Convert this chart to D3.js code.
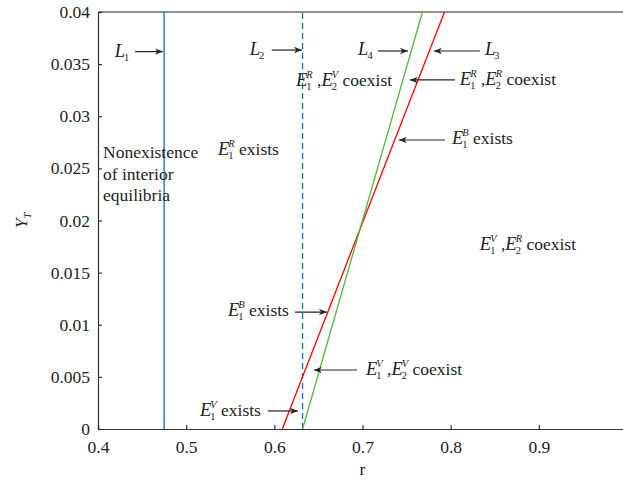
<!DOCTYPE html>
<html>
<head>
<meta charset="utf-8">
<script src="https://cdn.jsdelivr.net/npm/d3@7"></script>
<style>
  body { margin: 0; background: #fff; }
  svg { display: block; }
  text { font-family: "Liberation Serif", "DejaVu Serif", serif; fill: #222; white-space: pre; }
</style>
</head>
<body>
<svg id="chart" width="623" height="479"></svg>
<script>
// ---- data ----
var xTicks = [0.4, 0.5, 0.6, 0.7, 0.8, 0.9]
var yTicks = [0, 0.005, 0.01, 0.015, 0.02, 0.025, 0.03, 0.035, 0.04]
var yTickLabels = ["0", "0.005", "0.01", "0.015", "0.02", "0.025", "0.03", "0.035", "0.04"]

var rL1 = 0.475            // blue solid vertical
var rL2 = 0.632            // blue dashed vertical
var lineL3 = [[0.609, 0], [0.793, 0.04]]   // red
var lineL4 = [[0.632, 0], [0.768, 0.04]]   // green

// text labels: [r, Y, parts]   parts: plain strings or {b, sup, sub}
var labels = [
  [0.419, 0.0357, [{b: "L", sub: "1"}]],
  [0.572, 0.0359, [{b: "L", sub: "2"}]],
  [0.695, 0.0359, [{b: "L", sub: "4"}]],
  [0.839, 0.0359, [{b: "L", sub: "3"}]],
  [0.6245, 0.0329, [{b: "E", sup: "R", sub: "1"}, " ,", {b: "E", sup: "V", sub: "2"}, " coexist"]],
  [0.8104, 0.0330, [{b: "E", sup: "R", sub: "1"}, " ,", {b: "E", sup: "R", sub: "2"}, " coexist"]],
  [0.8014, 0.0273, [{b: "E", sup: "B", sub: "1"}, " exists"]],
  [0.536, 0.0263, [{b: "E", sup: "R", sub: "1"}, " exists"]],
  [0.8331, 0.0172, [{b: "E", sup: "V", sub: "1"}, " ,", {b: "E", sup: "R", sub: "2"}, " coexist"]],
  [0.5474, 0.0108, [{b: "E", sup: "B", sub: "1"}, " exists"]],
  [0.7039, 0.0052, [{b: "E", sup: "V", sub: "1"}, " ,", {b: "E", sup: "V", sub: "2"}, " coexist"]],
  [0.5156, 0.00125, [{b: "E", sup: "V", sub: "1"}, " exists"]]
]
var plainLines = [
  [0.4057, 0.0260, "Nonexistence"],
  [0.4057, 0.0239, "of interior"],
  [0.4057, 0.0219, "equilibria"]
]

// arrows: [r from, r to, Y]
var arrows = [
  [0.442, 0.4737, 0.0362],
  [0.597, 0.6313, 0.03635],
  [0.7175, 0.7515, 0.03626],
  [0.8331, 0.781, 0.03626],
  [0.8048, 0.7537, 0.03348],
  [0.7934, 0.7413, 0.02772],
  [0.6234, 0.6596, 0.01122],
  [0.6937, 0.6449, 0.00566],
  [0.5927, 0.6267, 0.00173]
]

// ---- drawing ----
var svg = d3.select("#chart")
var axisColor = "#333"
var fs = 17.5

var x = d3.scaleLinear().domain([0.4, 1.0]).range([98, 627])
var y = d3.scaleLinear().domain([0, 0.04]).range([429, 12])

var defs = svg.append("defs")
defs.append("marker")
  .attr("id", "head")
  .attr("viewBox", "0 -5 10 10")
  .attr("refX", 10).attr("refY", 0)
  .attr("markerWidth", 10).attr("markerHeight", 8)
  .attr("markerUnits", "userSpaceOnUse")
  .attr("orient", "auto")
  .append("path")
  .attr("d", "M0,-4 L10,0 L0,4 L3,0 Z")
  .attr("fill", "#222")

// axes (ticks inward)
var xAxis = d3.axisBottom(x).tickValues(xTicks).tickSize(-4).tickPadding(12).tickFormat(d3.format(".1f"))
var yAxis = d3.axisLeft(y).tickValues(yTicks).tickSize(-4).tickPadding(8).tickFormat((d, i) => yTickLabels[i])

var gx = svg.append("g").attr("transform", "translate(0," + y(0) + ")").call(xAxis)
var gy = svg.append("g").attr("transform", "translate(" + x(0.4) + ",0)").call(yAxis)
;[gx, gy].forEach(function(g) {
  g.select(".domain").attr("stroke", axisColor).attr("stroke-width", 1.2)
  g.selectAll(".tick line").attr("stroke", axisColor).attr("stroke-width", 1.2)
  g.selectAll(".tick text").attr("font-size", fs).attr("font-family", "Liberation Serif").attr("fill", "#222")
})

// top frame line
svg.append("line")
  .attr("x1", x(0.4)).attr("x2", x(1.0))
  .attr("y1", y(0.04)).attr("y2", y(0.04))
  .attr("stroke", "#222").attr("stroke-width", 1.2)

// curves
svg.append("line")
  .attr("x1", x(rL1)).attr("x2", x(rL1)).attr("y1", y(0)).attr("y2", y(0.04))
  .attr("stroke", "#0072BD").attr("stroke-width", 1.3)
svg.append("line")
  .attr("x1", x(rL2)).attr("x2", x(rL2)).attr("y1", y(0)).attr("y2", y(0.04))
  .attr("stroke", "#0072BD").attr("stroke-width", 1.3).attr("stroke-dasharray", "6,4")

var lineGen = d3.line().x(d => x(d[0])).y(d => y(d[1]))
svg.append("path").attr("d", lineGen(lineL3)).attr("fill", "none").attr("stroke", "#FF0000").attr("stroke-width", 1.3)
svg.append("path").attr("d", lineGen(lineL4)).attr("fill", "none").attr("stroke", "#4DBA3A").attr("stroke-width", 1.3)

// arrows
svg.append("g").selectAll("line").data(arrows).enter().append("line")
  .attr("x1", d => x(d[0])).attr("x2", d => x(d[1]))
  .attr("y1", d => y(d[2])).attr("y2", d => y(d[2]))
  .attr("stroke", "#222").attr("stroke-width", 1.2)
  .attr("marker-end", "url(#head)")

// math-ish labels, built piece by piece
function drawMath(px, py, parts) {
  var g = svg.append("g")
  var cx = px
  parts.forEach(function(p) {
    if (typeof p === "string") {
      var t = g.append("text").attr("x", cx).attr("y", py).attr("font-size", fs).text(p)
      cx += t.node().getComputedTextLength()
    } else {
      var b = g.append("text").attr("x", cx).attr("y", py).attr("font-size", fs + 1)
        .attr("font-style", "italic").text(p.b)
      cx += b.node().getComputedTextLength()
      var w = 0
      if (p.sup) {
        var s = g.append("text").attr("x", cx - 1).attr("y", py - 8).attr("font-size", 10.5)
          .attr("font-style", "italic").text(p.sup)
        w = Math.max(w, s.node().getComputedTextLength())
      }
      if (p.sub) {
        var u = g.append("text").attr("x", cx - 1).attr("y", py + 4).attr("font-size", 10.5).text(p.sub)
        w = Math.max(w, u.node().getComputedTextLength())
      }
      cx += w - 1
    }
  })
}
labels.forEach(d => drawMath(x(d[0]), y(d[1]), d[2]))

svg.append("g").selectAll("text").data(plainLines).enter().append("text")
  .attr("x", d => x(d[0])).attr("y", d => y(d[1]))
  .attr("font-size", fs).text(d => d[2])

// axis titles
svg.append("text").attr("x", x(0.7)).attr("y", 475).attr("text-anchor", "middle")
  .attr("font-size", fs).text("r")
var yt = svg.append("text").attr("transform", "translate(27," + y(0.02) + ") rotate(-90)")
  .attr("text-anchor", "middle").attr("font-size", fs)
yt.append("tspan").attr("font-style", "italic").text("Y")
yt.append("tspan").attr("font-size", 10.5).attr("font-style", "italic").attr("dy", 4).text("T")
</script>
</body>
</html>
